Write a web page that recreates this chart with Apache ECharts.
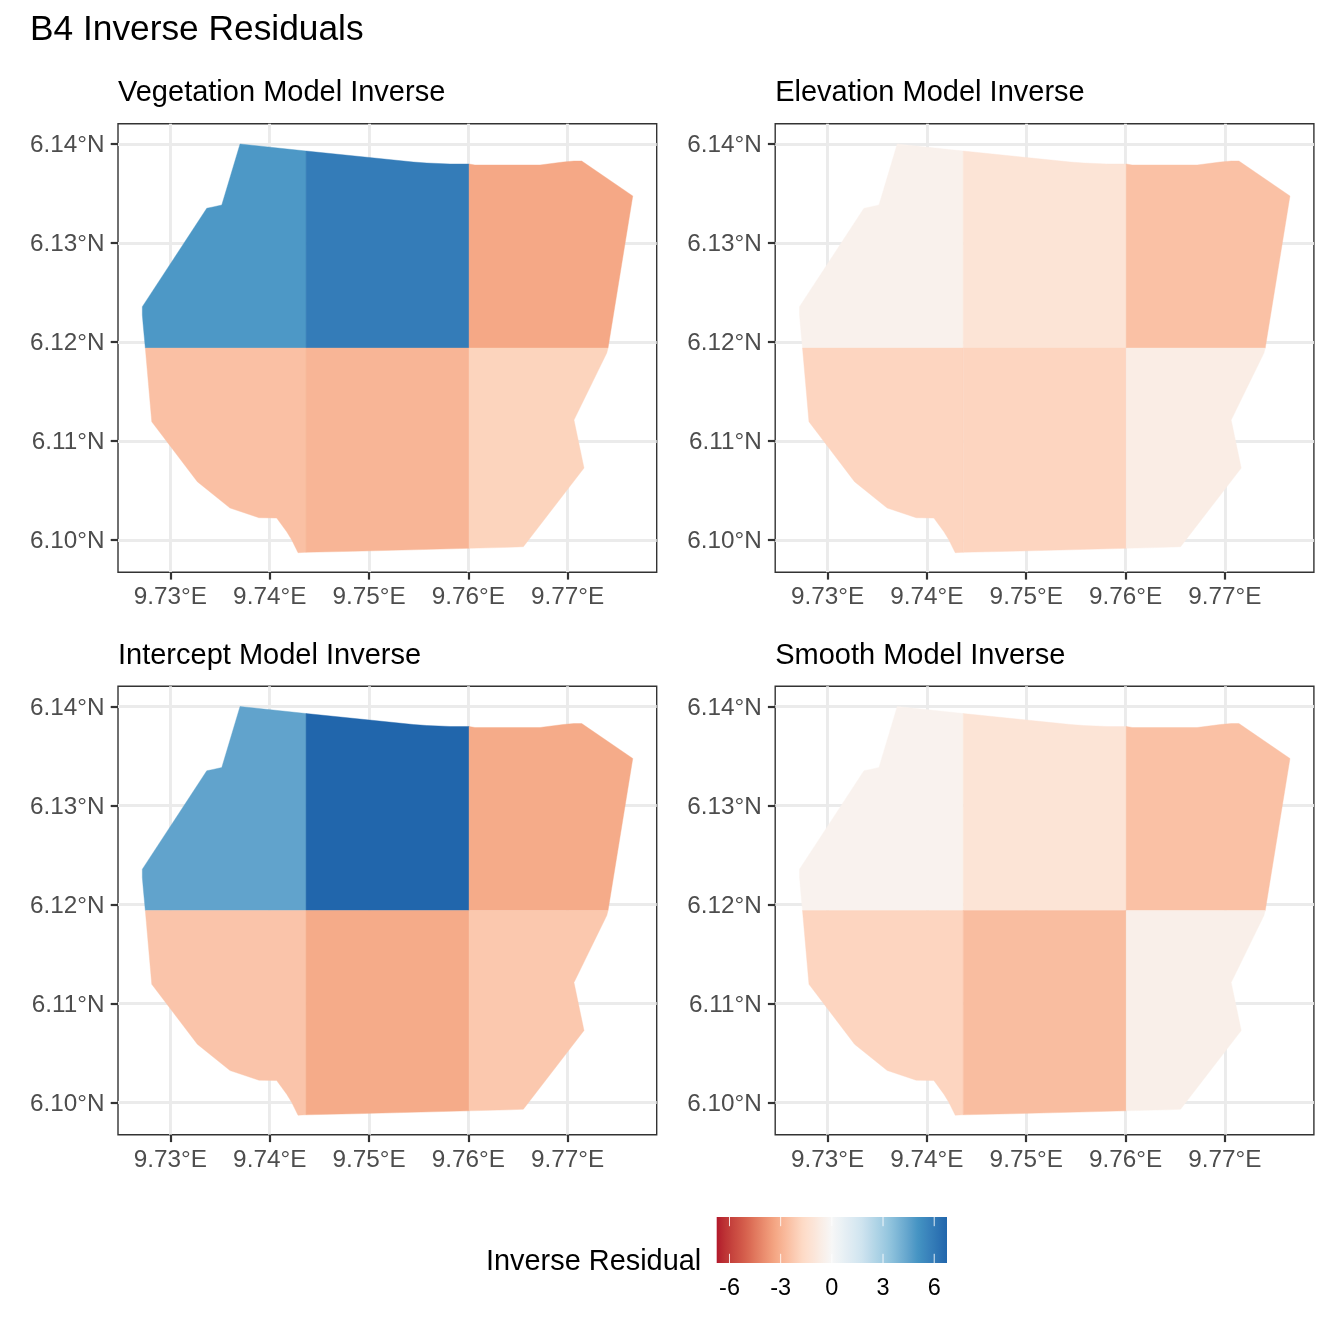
<!DOCTYPE html>
<html>
<head>
<meta charset="utf-8">
<script src="https://cdn.jsdelivr.net/npm/echarts@6/dist/echarts.min.js"></script>
<style>html,body{margin:0;padding:0;background:#fff}#c{width:1344px;height:1344px}</style>
</head>
<body>
<div id="c"></div>
<script>
const chartTitle = 'B4 Inverse Residuals';
const legendTitle = 'Inverse Residual';
const panelNames = ['Vegetation Model Inverse', 'Elevation Model Inverse', 'Intercept Model Inverse', 'Smooth Model Inverse'];
const lonTicks = [9.73, 9.74, 9.75, 9.76, 9.77];
const latTicks = [6.10, 6.11, 6.12, 6.13, 6.14];
const legendTicks = [-6, -3, 0, 3, 6];
const lonRange = [9.72472, 9.77897];
const latRange = [6.09674, 6.14205];
const fillLimits = [-6.75, 6.75];
const paletteColors = ['#B2182B', '#D6604D', '#F4A582', '#FDDBC7', '#F7F7F7', '#D1E5F0', '#92C5DE', '#4393C3', '#2166AC'];

// cell order: top-left, top-middle, top-right, bottom-left, bottom-middle, bottom-right
const vegetationValues = [4.88, 5.9, -3.27, -2.53, -2.87, -1.92];
const elevationValues = [-0.38, -1.16, -2.5, -1.86, -1.86, -0.63];
const interceptValues = [4.5, 6.75, -3.2, -2.39, -3.2, -2.28];
const smoothValues = [-0.3, -1.15, -2.5, -1.86, -2.63, -0.48];

// lon/lat outlines of the six cells
const cellTopLeft = [[9.73701,6.14000],[9.74366,6.13929],[9.74366,6.11939],[9.72747,6.11939],[9.72727,6.12155],[9.72717,6.12273],[9.72717,6.12357],[9.73366,6.13351],[9.73429,6.13364],[9.73517,6.13384]];
const cellTopMiddle = [[9.74366,6.13929],[9.75446,6.13818],[9.75581,6.13808],[9.75816,6.13798],[9.76007,6.13798],[9.76007,6.11939],[9.74366,6.11939]];
const cellTopRight = [[9.76007,6.13798],[9.76067,6.13788],[9.76722,6.13788],[9.76954,6.13818],[9.77064,6.13828],[9.77142,6.13828],[9.77656,6.13475],[9.77407,6.11939],[9.76007,6.11939]];
const cellBottomLeft = [[9.72747,6.11939],[9.74366,6.11939],[9.74366,6.09876],[9.74285,6.09872],[9.74222,6.10000],[9.74171,6.10084],[9.74070,6.10222],[9.73892,6.10225],[9.73600,6.10323],[9.73271,6.10589],[9.72812,6.11195]];
const cellBottomMiddle = [[9.74366,6.11939],[9.76007,6.11939],[9.76007,6.09916],[9.75621,6.09906],[9.75229,6.09896],[9.74836,6.09886],[9.74366,6.09876]];
const cellBottomRight = [[9.76007,6.11939],[9.77407,6.11939],[9.77394,6.11889],[9.77064,6.11212],[9.77165,6.10727],[9.76554,6.09932],[9.76400,6.09926],[9.76007,6.09916]];
const cellOutlines = [cellTopLeft, cellTopMiddle, cellTopRight, cellBottomLeft, cellBottomMiddle, cellBottomRight];
const panelValues = [vegetationValues, elevationValues, interceptValues, smoothValues];

// Lab interpolation of the palette
function hexToLab(h) {
  const c = [1, 3, 5].map(i => parseInt(h.substr(i, 2), 16) / 255).map(v => v <= 0.04045 ? v / 12.92 : Math.pow((v + 0.055) / 1.055, 2.4));
  const X = (0.4124564 * c[0] + 0.3575761 * c[1] + 0.1804375 * c[2]) / 0.95047;
  const Y = 0.2126729 * c[0] + 0.7151522 * c[1] + 0.0721750 * c[2];
  const Z = (0.0193339 * c[0] + 0.1191920 * c[1] + 0.9503041 * c[2]) / 1.08883;
  const f = t => t > 0.008856 ? Math.cbrt(t) : 7.787 * t + 16 / 116;
  return [116 * f(Y) - 16, 500 * (f(X) - f(Y)), 200 * (f(Y) - f(Z))];
}
function labToRgb(l) {
  const fy = (l[0] + 16) / 116, fx = l[1] / 500 + fy, fz = fy - l[2] / 200;
  const g = t => t * t * t > 0.008856 ? t * t * t : (t - 16 / 116) / 7.787;
  const X = g(fx) * 0.95047, Y = g(fy), Z = g(fz) * 1.08883;
  const lin = [3.2404542 * X - 1.5371385 * Y - 0.4985314 * Z, -0.9692660 * X + 1.8760108 * Y + 0.0415560 * Z, 0.0556434 * X - 0.2040259 * Y + 1.0572252 * Z];
  const out = lin.map(v => { v = Math.max(0, Math.min(1, v)); return Math.round(255 * (v <= 0.0031308 ? 12.92 * v : 1.055 * Math.pow(v, 1 / 2.4) - 0.055)); });
  return 'rgb(' + out.join(',') + ')';
}
const paletteLab = paletteColors.map(hexToLab);
function fillOf(v) {
  const t = Math.max(0, Math.min(1, (v - fillLimits[0]) / (fillLimits[1] - fillLimits[0]))) * (paletteLab.length - 1);
  const i = Math.min(paletteLab.length - 2, Math.floor(t)), k = t - i;
  return labToRgb(paletteLab[i].map((a, j) => a + (paletteLab[i + 1][j] - a) * k));
}

const FONT = '"Liberation Sans", Arial, sans-serif';
const panelW = 538.7, panelH = 448.6;
const panelPos = [[118, 123.7], [775.2, 123.7], [118, 686.2], [775.2, 686.2]];

const grids = [], xAxes = [], yAxes = [], series = [], titles = [];
titles.push({ text: chartTitle, left: 30, top: 13, padding: 0, textStyle: { fontFamily: FONT, fontSize: 35.3, fontWeight: 'normal', color: '#000' } });

panelPos.forEach((p, k) => {
  grids.push({ left: p[0], top: p[1], width: panelW, height: panelH, show: true, backgroundColor: '#fff', borderColor: '#333', borderWidth: 1.4, containLabel: false });
  xAxes.push({
    type: 'value', gridIndex: k, min: lonRange[0], max: lonRange[1], position: 'bottom',
    axisLine: { show: false },
    axisTick: { show: true, length: 7.3, customValues: lonTicks, lineStyle: { color: '#333', width: 2.2 } },
    axisLabel: { show: true, customValues: lonTicks, margin: 13.5, color: '#4D4D4D', fontFamily: FONT, fontSize: 24.3, formatter: v => v.toFixed(2) + '°E' },
    splitLine: { show: true, lineStyle: { color: '#EBEBEB', width: 2.9 } }
  });
  yAxes.push({
    type: 'value', gridIndex: k, min: latRange[0], max: latRange[1], position: 'left',
    axisLine: { show: false },
    axisTick: { show: true, length: 7.3, customValues: latTicks, lineStyle: { color: '#333', width: 2.2 } },
    axisLabel: { show: true, customValues: latTicks, margin: 13.5, color: '#4D4D4D', fontFamily: FONT, fontSize: 24.3,
      formatter: v => '{t|' + v.toFixed(2) + '°N}',
      rich: { t: { padding: [3, 0, 0, 0], color: '#4D4D4D', fontFamily: FONT, fontSize: 24.3 } } },
    splitLine: { show: true, lineStyle: { color: '#EBEBEB', width: 2.9 } }
  });
  titles.push({ text: panelNames[k], left: p[0], top: p[1] - 45, padding: 0, textStyle: { fontFamily: FONT, fontSize: 29, fontWeight: 'normal', color: '#000' } });
  series.push({
    type: 'custom', coordinateSystem: 'cartesian2d', xAxisIndex: k, yAxisIndex: k, clip: false, silent: true,
    data: panelValues[k].map((v, i) => [cellOutlines[i][0][0], cellOutlines[i][0][1], v, i]),
    renderItem: (params, api) => {
      const fill = fillOf(api.value(2));
      return { type: 'polygon', shape: { points: cellOutlines[api.value(3)].map(q => api.coord(q)) }, style: { fill: fill, stroke: fill, lineWidth: 0.4 } };
    }
  });
});

// colour bar
const L = 4;
grids.push({ left: 716.7, top: 1217, width: 230.3, height: 46, show: false });
xAxes.push({
  type: 'value', gridIndex: L, min: fillLimits[0], max: fillLimits[1],
  axisLine: { show: false }, axisTick: { show: false, customValues: legendTicks }, splitLine: { show: false },
  axisLabel: { show: true, customValues: legendTicks, margin: 14, color: '#000', fontFamily: FONT, fontSize: 23.47 }
});
yAxes.push({ type: 'value', gridIndex: L, min: 0, max: 1, show: false });
const barStops = [];
for (let v = 0; v <= 54; v++) barStops.push({ offset: v / 54, color: fillOf(fillLimits[0] + (fillLimits[1] - fillLimits[0]) * v / 54) });
series.push({
  type: 'custom', coordinateSystem: 'cartesian2d', xAxisIndex: L, yAxisIndex: L, silent: true, clip: false, z: 2,
  data: [[fillLimits[0], 0, fillLimits[1], 1]],
  renderItem: (params, api) => {
    const a = api.coord([api.value(0), api.value(3)]), b = api.coord([api.value(2), api.value(1)]);
    return { type: 'rect', shape: { x: a[0], y: a[1], width: b[0] - a[0], height: b[1] - a[1] },
      style: { fill: new echarts.graphic.LinearGradient(0, 0, 1, 0, barStops) } };
  }
});
series.push({
  type: 'custom', coordinateSystem: 'cartesian2d', xAxisIndex: L, yAxisIndex: L, silent: true, clip: false, z: 3,
  data: legendTicks.map(v => [v, 0]),
  renderItem: (params, api) => {
    const top = api.coord([api.value(0), 1]), bot = api.coord([api.value(0), 0]);
    const s = { stroke: 'rgba(255,255,255,0.85)', lineWidth: 1 };
    return { type: 'group', children: [
      { type: 'line', shape: { x1: top[0], y1: top[1], x2: top[0], y2: top[1] + 9.2 }, style: s },
      { type: 'line', shape: { x1: bot[0], y1: bot[1] - 9.2, x2: bot[0], y2: bot[1] }, style: s }
    ] };
  }
});
titles.push({ text: legendTitle, left: 486, top: 1248, padding: 0, textStyle: { fontFamily: FONT, fontSize: 28.9, fontWeight: 'normal', color: '#000' } });

const chart = echarts.init(document.getElementById('c'), null, { renderer: 'canvas', width: 1344, height: 1344 });
chart.setOption({ animation: false, backgroundColor: '#fff', title: titles, grid: grids, xAxis: xAxes, yAxis: yAxes, series: series });
</script>
</body>
</html>
